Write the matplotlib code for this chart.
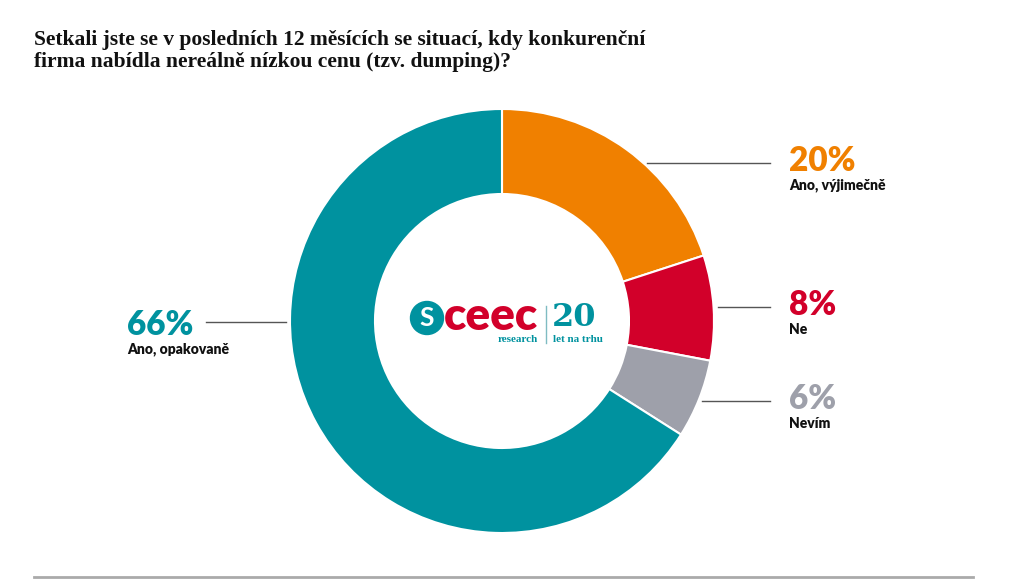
import matplotlib
matplotlib.use("Agg")
import math
import matplotlib.pyplot as plt
from matplotlib.patches import Circle

title = "Setkali jste se v posledních 12 měsících se situací, kdy konkurenční\nfirma nabídla nereálně nízkou cenu (tzv. dumping)?"
labels = ["Ano, výjimečně", "Ne", "Nevím", "Ano, opakovaně"]
values = [20, 8, 6, 66]
colors = ["#F08000", "#D2002A", "#9EA0AA", "#00929F"]
# label row (image y, pixels) and side
label_y = [163, 307, 401, 322]
label_side = ["r", "r", "r", "l"]

W, H = 1024, 579
fig = plt.figure(figsize=(W / 100, H / 100), dpi=100)
ax = fig.add_axes([0, 0, 1, 1])

cx, cy, R = 502, 321, 212
ax.pie(values, colors=colors, startangle=90, counterclock=False,
       center=(cx, H - cy), radius=R,
       wedgeprops=dict(width=R - 127, edgecolor="white", linewidth=1.5))
ax.set_xlim(0, W)
ax.set_ylim(0, H)
ax.set_aspect("equal")
ax.axis("off")

for lab, v, c, y, side in zip(labels, values, colors, label_y, label_side):
    dy = cy - y
    dx = math.sqrt(R ** 2 - dy ** 2)
    if side == "r":
        x0, x1, tx = cx + dx + 4, 770, 789
    else:
        x0, x1, tx = cx - dx - 4, 206, 127
    ax.plot([x0, x1], [H - y, H - y], color="#555555", lw=1)
    ty = y - 2 if side == "r" else y + 3
    ax.text(tx, H - ty, f"{v}%", color=c, fontsize=24, fontweight="heavy",
            family="Lato", ha="left", va="center")
    ax.text(tx, H - (ty + 24), lab, color="#111111", fontsize=10, fontweight="heavy",
            family="Lato", ha="left", va="center")

# title
fig.text(34 / W, 1 - 30 / H, title, fontsize=15.5, fontweight="bold",
         family="Liberation Serif", va="top", ha="left", color="#111111",
         linespacing=1.1)

# logo
ax.add_patch(Circle((427, H - 318), 16.5, color="#00929F"))
ax.text(427, H - 318, "S", color="white", fontsize=19, fontweight="bold",
        family="Lato", ha="center", va="center")
ax.text(444, H - 316, "ceec", color="#D2002A", fontsize=33, fontweight="heavy",
        family="Lato", ha="left", va="center")
ax.text(538, H - 339, "research", color="#00929F", fontsize=8, fontweight="bold",
        family="Liberation Serif", ha="right", va="center")
ax.plot([546, 546], [H - 306, H - 343], color="#7fbcc2", lw=1)
ax.text(552, H - 318, "20", color="#00929F", fontsize=23, fontweight="bold",
        family="DejaVu Serif", ha="left", va="center")
ax.text(553, H - 339, "let na trhu", color="#00929F", fontsize=8, fontweight="bold",
        family="Liberation Serif", ha="left", va="center")

# bottom rule
ax.plot([34, 973], [H - 577, H - 577], color="#aaaaaa", lw=2)

fig.savefig("out.png", dpi=100)
